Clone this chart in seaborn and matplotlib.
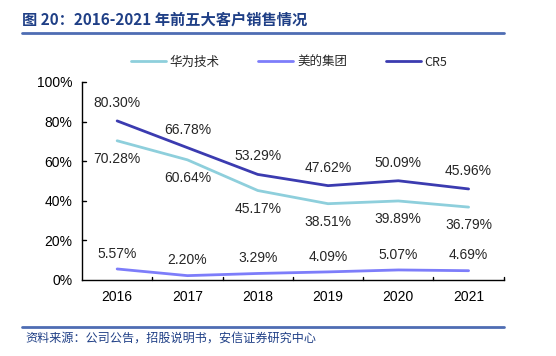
import matplotlib
matplotlib.use("Agg")
import matplotlib.pyplot as plt
import seaborn as sns
import pandas as pd

years = ["2016", "2017", "2018", "2019", "2020", "2021"]
huawei = [70.28, 60.64, 45.17, 38.51, 39.89, 36.79]
midea = [5.57, 2.20, 3.29, 4.09, 5.07, 4.69]
cr5 = [80.30, 66.78, 53.29, 47.62, 50.09, 45.96]
series_names = ["华为技术", "美的集团", "CR5"]
colors = ["#8ecfdc", "#7d7dfa", "#3b3bb0"]

sns.set_style("white")
plt.rcParams["font.family"] = ["Liberation Sans", "Noto Sans CJK SC", "DejaVu Sans"]

df = pd.DataFrame({"year": years * 3,
                   "value": huawei + midea + cr5,
                   "series": [n for n in series_names for _ in years]})
df["x"] = list(range(len(years))) * 3

fig = plt.figure(figsize=(5.56, 3.56), dpi=100)
ax = fig.add_axes([0.1475, 0.2135, 0.7585, 0.5565])

sns.lineplot(data=df, x="x", y="value", hue="series", hue_order=series_names,
             palette=colors, linewidth=2, ax=ax, legend=False)

ax.set_xlim(-0.5, len(years) - 0.5)
ax.set_ylim(0, 100)
ax.set_xticks(range(len(years)))
ax.set_xticklabels(years)
ax.set_yticks(range(0, 101, 20))
ax.set_yticklabels([f"{v}%" for v in range(0, 101, 20)])
ax.tick_params(axis="both", labelsize=10, length=0, pad=7, colors="black")
ax.set_xlabel("")
ax.set_ylabel("")
for s in ["top", "right"]:
    ax.spines[s].set_visible(False)
for s in ["left", "bottom"]:
    ax.spines[s].set_color("black")
    ax.spines[s].set_linewidth(1)

# small tick marks like the original
for v in range(20, 101, 20):
    ax.plot([-0.5, -0.45], [v, v], color="black", lw=1, clip_on=False)
for i in range(1, len(years) + 1):
    ax.plot([i - 0.5, i - 0.5], [0, 1.5], color="black", lw=1, clip_on=False)

# data labels
for i in range(len(years)):
    ax.annotate(f"{cr5[i]:.2f}%", (i, cr5[i]), xytext=(0, 8), textcoords="offset points",
                ha="center", va="bottom", fontsize=10)
    ax.annotate(f"{huawei[i]:.2f}%", (i, huawei[i]), xytext=(0, -8), textcoords="offset points",
                ha="center", va="top", fontsize=10)
    ax.annotate(f"{midea[i]:.2f}%", (i, midea[i]), xytext=(0, 6), textcoords="offset points",
                ha="center", va="bottom", fontsize=10)

# legend
handles = [plt.Line2D([0], [0], color=c, lw=2) for c in colors]
fig.legend(handles, series_names, loc="center", bbox_to_anchor=(0.52, 0.825), ncol=3,
           frameon=False, handlelength=2.8, columnspacing=3.1, handletextpad=0.3,
           prop={"family": ["Noto Sans CJK SC", "DejaVu Sans"], "size": 9})

# header and footer
fig.text(0.04, 0.945, "图 20：2016-2021 年前五大客户销售情况", fontsize=11, fontweight="bold",
         color="#1f3f86", ha="left", va="center",
         family=["Noto Sans CJK SC", "DejaVu Sans"])
fig.add_artist(plt.Line2D([0.04, 0.906], [0.907, 0.907], color="#4e6db3", lw=2))
fig.add_artist(plt.Line2D([0.04, 0.906], [0.082, 0.082], color="#4e6db3", lw=2))
fig.text(0.045, 0.05, "资料来源：公司公告，招股说明书，安信证券研究中心", fontsize=8.7, style="italic",
         color="#1f3f86", ha="left", va="center",
         family=["Noto Sans CJK SC", "DejaVu Sans"])

fig.savefig("out.png", dpi=100, facecolor="white")
